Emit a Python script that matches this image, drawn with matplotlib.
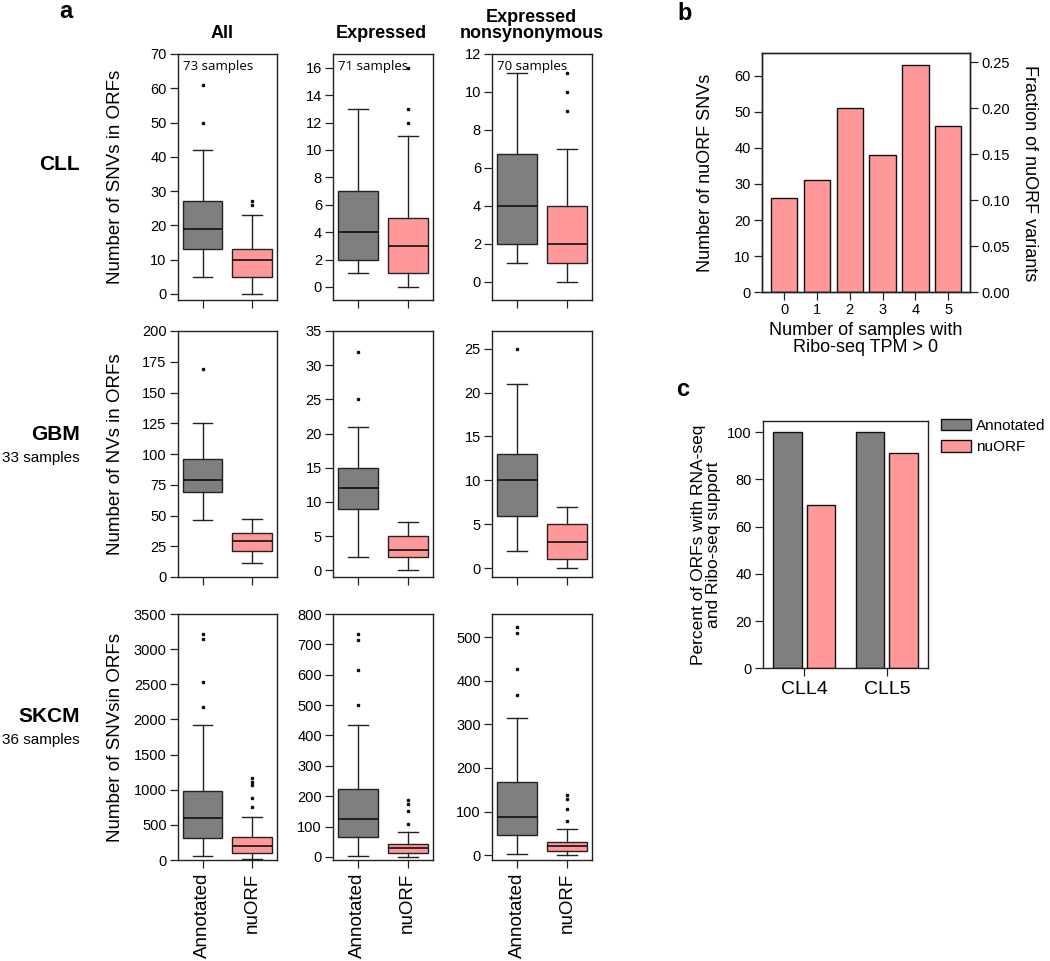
import matplotlib
matplotlib.use("Agg")
import matplotlib.pyplot as plt
from matplotlib.patches import Patch

plt.rcParams['font.family'] = ['Liberation Sans', 'DejaVu Sans']
plt.rcParams['axes.linewidth'] = 1.0
plt.rcParams['axes.edgecolor'] = '#222222'

GREY = '#7f7f7f'
PINK = '#ff9999'

# ---- panel a data: boxes as [whislo, q1, median, q3, whishi] ----
col_titles = ["All", "Expressed", "Expressed\nnonsynonymous"]
row_names = ["CLL", "GBM", "SKCM"]
row_samples = ["", "33 samples", "36 samples"]
col_samples_cll = ["73 samples", "71 samples", "70 samples"]
ylabels = ["Number of SNVs in ORFs", "Number of NVs in ORFs", "Number of SNVsin ORFs"]
group_labels = ["Annotated", "nuORF"]

cll_annotated = [[5, 13, 19, 27, 42], [1, 2, 4, 7, 13], [1, 2, 4, 6.75, 11]]
cll_annotated_out = [[50, 61], [], []]
cll_nuorf = [[0, 5, 10, 13, 23], [0, 1, 3, 5, 11], [0, 1, 2, 4, 7]]
cll_nuorf_out = [[26, 27], [12, 13, 16], [9, 10, 11]]

gbm_annotated = [[46, 69, 79, 96, 125], [2, 9, 12, 15, 21], [2, 6, 10, 13, 21]]
gbm_annotated_out = [[169], [25, 32], [25]]
gbm_nuorf = [[11, 21, 29, 36, 47], [0, 2, 3, 5, 7], [0, 1, 3, 5, 7]]
gbm_nuorf_out = [[], [], []]

skcm_annotated = [[52, 308, 597, 985, 1923], [3, 66, 124, 225, 435], [3, 46, 87, 168, 315]]
skcm_annotated_out = [[2180, 2530, 3140, 3210], [499, 617, 716, 735], [367, 428, 509, 523]]
skcm_nuorf = [[19, 104, 199, 322, 606], [1, 14, 31, 42, 82], [0, 9, 20, 30, 59]]
skcm_nuorf_out = [[758, 876, 1060, 1110, 1160], [110, 150, 175, 188], [79, 105, 130, 138]]

ylims = [[(-1.75, 70), (-0.95, 17.0), (-0.95, 12)],
         [(0, 200), (-1.0, 35), (-1.0, 27.0)],
         [(0, 3500), (-10, 800), (-11, 553)]]
ysteps = [[10, 2, 2], [25, 5, 5], [500, 100, 100]]

# ---- panel b data ----
b_x = [0, 1, 2, 3, 4, 5]
b_counts = [26, 31, 51, 38, 63, 46]
b_total = sum(b_counts)

# ---- panel c data ----
c_samples = ["CLL4", "CLL5"]
c_annotated = [100, 100]
c_nuorf = [69.2, 91.1]

fig = plt.figure(figsize=(10.5, 9.61), dpi=100)
W, H = 1050.0, 961.0
TICK_FS = 10.5


def px_axes(x0, y0, x1, y1):
    return fig.add_axes([x0 / W, 1 - y1 / H, (x1 - x0) / W, (y1 - y0) / H])


def make_stats(vals, out):
    return dict(whislo=vals[0], q1=vals[1], med=vals[2], q3=vals[3], whishi=vals[4], fliers=out)


rows = [(cll_annotated, cll_annotated_out, cll_nuorf, cll_nuorf_out),
        (gbm_annotated, gbm_annotated_out, gbm_nuorf, gbm_nuorf_out),
        (skcm_annotated, skcm_annotated_out, skcm_nuorf, skcm_nuorf_out)]
row_px = [(54, 300), (331, 577), (614, 860)]
col_px = [(177.7, 277), (333, 432.7), (492, 592)]

for r in range(3):
    ann, ann_out, nu, nu_out = rows[r]
    for c in range(3):
        ax = px_axes(col_px[c][0], row_px[r][0], col_px[c][1], row_px[r][1])
        stats = [make_stats(ann[c], ann_out[c]), make_stats(nu[c], nu_out[c])]
        bp = ax.bxp(stats, positions=[1, 2], widths=0.8, patch_artist=True,
                    boxprops=dict(edgecolor='#222222', linewidth=1.0),
                    medianprops=dict(color='#111111', linewidth=1.2),
                    whiskerprops=dict(color='#222222', linewidth=1.0),
                    capprops=dict(color='#222222', linewidth=1.0),
                    flierprops=dict(marker='s', markersize=1.7, markerfacecolor='#111111',
                                    markeredgecolor='#111111', linestyle='none'))
        bp['boxes'][0].set_facecolor(GREY)
        bp['boxes'][1].set_facecolor(PINK)
        ax.set_xlim(0.5, 2.5)
        lo, hi = ylims[r][c]
        ax.set_ylim(lo, hi)
        step = ysteps[r][c]
        top = int(hi // step) * step
        ax.set_yticks(range(0, top + 1, step))
        ax.tick_params(axis='both', direction='out', length=6, width=0.9,
                       color='#222222', labelsize=TICK_FS, pad=2)
        ax.set_xticks([1, 2])
        if r == 2:
            ax.set_xticklabels(group_labels, rotation=90, fontsize=13.5)
            ax.tick_params(axis='x', pad=3)
        else:
            ax.set_xticklabels(['', ''])
        if c == 0:
            ax.set_ylabel(ylabels[r], fontsize=13.5, va='center')
            ax.yaxis.set_label_coords(-0.631, 0.5)
        if r == 0:
            ax.text(0.05, 0.951, col_samples_cll[c], transform=ax.transAxes,
                    ha='left', va='center', fontsize=9.5, family=['Open Sans', 'DejaVu Sans'])

# column titles
title_x = [221.7, 381.7, 531.7]
for c in range(3):
    fig.text(title_x[c] / W, 1 - 42 / H, col_titles[c], ha='center', va='bottom',
             fontsize=13, fontweight='bold', linespacing=0.95)

# row labels
row_y = [165, 435, 717]
for r in range(3):
    fig.text(80 / W, 1 - row_y[r] / H, row_names[r], ha='right', va='center',
             fontsize=15, fontweight='bold')
    if row_samples[r]:
        fig.text(80 / W, 1 - (row_y[r] + 23) / H, row_samples[r], ha='right', va='center',
                 fontsize=11)

# panel letters
fig.text(66 / W, 1 - 12 / H, "a", ha='center', va='center', fontsize=17, fontweight='bold')
fig.text(685 / W, 1 - 13 / H, "b", ha='center', va='center', fontsize=17, fontweight='bold')
fig.text(683 / W, 1 - 390 / H, "c", ha='center', va='center', fontsize=17, fontweight='bold')

# ---- panel b ----
axb = px_axes(761.7, 53.3, 970, 292.3)
axb.bar(b_x, b_counts, width=0.8, color=PINK, edgecolor='#111111', linewidth=1.0)
axb.set_xlim(-0.68, 5.66)
ymax_b = 66.2
axb.set_ylim(0, ymax_b)
axb.set_yticks(range(0, 61, 10))
axb.set_xticks(b_x)
axb.tick_params(axis='both', direction='out', length=6, width=0.9, color='#222222',
                labelsize=TICK_FS, pad=2)
axb.set_ylabel("Number of nuORF SNVs", fontsize=13, va='center')
axb.yaxis.set_label_coords(-0.272, 0.5)
axb.set_xlabel("Number of samples with\nRibo-seq TPM > 0", fontsize=13, labelpad=3,
               linespacing=1.0)
axb2 = axb.twinx()
axb2.set_ylim(0, ymax_b / b_total)
axb2.set_yticks([0, 0.05, 0.10, 0.15, 0.20, 0.25])
axb2.set_yticklabels(["0.00", "0.05", "0.10", "0.15", "0.20", "0.25"])
axb2.tick_params(axis='y', direction='out', length=6, width=0.9, color='#222222',
                 labelsize=TICK_FS, pad=2)
axb2.set_ylabel("Fraction of nuORF variants", fontsize=13, rotation=270, va='center')
axb2.yaxis.set_label_coords(1.288, 0.5)

# ---- panel c ----
axc = px_axes(762.7, 420.7, 928.3, 668.3)
xc = range(len(c_samples))
axc.bar([x - 0.2 for x in xc], c_annotated, width=0.342, color=GREY,
        edgecolor='#111111', linewidth=1.0, label="Annotated")
axc.bar([x + 0.2 for x in xc], c_nuorf, width=0.342, color=PINK,
        edgecolor='#111111', linewidth=1.0, label="nuORF")
axc.set_xlim(-0.5, 1.5)
axc.set_ylim(0, 104.9)
axc.set_yticks(range(0, 101, 20))
axc.set_xticks(list(xc))
axc.set_xticklabels(c_samples, fontsize=14)
axc.tick_params(axis='both', direction='out', length=6, width=0.9, color='#222222', pad=3)
axc.tick_params(axis='y', labelsize=TICK_FS, pad=2)
axc.set_ylabel("Percent of ORFs with RNA-seq\nand Ribo-seq support", fontsize=12.5,
               linespacing=1.05, va='center')
axc.yaxis.set_label_coords(-0.342, 0.5)
handles = [Patch(facecolor=GREY, edgecolor='#111111', label="Annotated"),
           Patch(facecolor=PINK, edgecolor='#111111', label="nuORF")]
fig.legend(handles=handles, loc='upper left', bbox_to_anchor=(939 / W, 1 - 417 / H),
           frameon=False, fontsize=11, handlelength=2.0, handleheight=0.78,
           handletextpad=0.35, labelspacing=0.5, borderaxespad=0, borderpad=0.1)

fig.savefig("out.png", dpi=100)
